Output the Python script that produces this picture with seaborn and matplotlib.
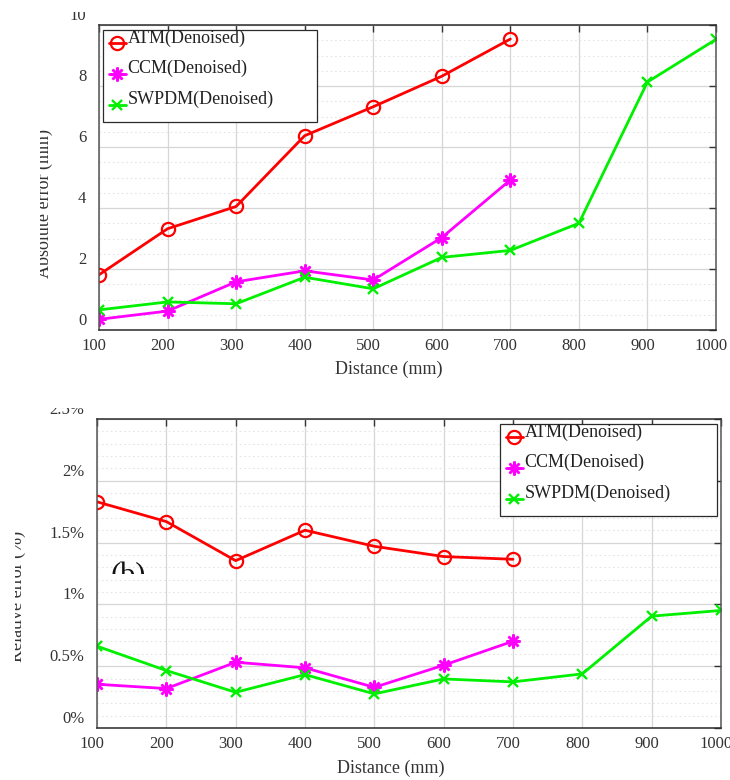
import numpy as np
import pandas as pd
import matplotlib
matplotlib.use("Agg")
import matplotlib.pyplot as plt
import seaborn as sns
from matplotlib.transforms import Bbox, ScaledTranslation, Affine2D
from matplotlib.ticker import FixedLocator, MultipleLocator

# ---------------- data ----------------
distance_short = [100, 200, 300, 400, 500, 600, 700]
distance_long = [100, 200, 300, 400, 500, 600, 700, 800, 900, 1000]

abs_atm = [1.81, 3.32, 4.05, 6.37, 7.32, 8.32, 9.54]
abs_ccm = [0.35, 0.62, 1.58, 1.94, 1.64, 3.03, 4.92]
abs_swpdm = [0.66, 0.92, 0.86, 1.73, 1.35, 2.38, 2.61, 3.50, 8.13, 9.53]

rel_atm = [1.83, 1.67, 1.354, 1.60, 1.47, 1.387, 1.365]
rel_ccm = [0.354, 0.319, 0.532, 0.487, 0.329, 0.508, 0.702]
rel_swpdm = [0.662, 0.465, 0.289, 0.432, 0.276, 0.397, 0.373, 0.438, 0.905, 0.951]

series_names = ["ATM(Denoised)", "CCM(Denoised)", "SWPDM(Denoised)"]
x_ticks = [100, 200, 300, 400, 500, 600, 700, 800, 900, 1000]
abs_ticks = [0, 2, 4, 6, 8, 10]
abs_tick_labels = ["0", "2", "4", "6", "8", "10"]
rel_ticks = [0, 0.5, 1, 1.5, 2, 2.5]
rel_tick_labels = ["0%", "0.5%", "1%", "1.5%", "2%", "2.5%"]
x_label = "Distance (mm)"
abs_label = "Absolute error (mm)"
rel_label = "Relative error (%)"
panel_tag = "(b)"

# ---------------- style ----------------
sns.set_theme(style="white")
plt.rcParams["font.family"] = ["Liberation Serif", "DejaVu Serif"]
plt.rcParams["text.color"] = "#333333"
plt.rcParams["axes.labelcolor"] = "#333333"
plt.rcParams["xtick.color"] = "#333333"
plt.rcParams["ytick.color"] = "#333333"

W, H = 730, 780
fig = plt.figure(figsize=(W / 100, H / 100), dpi=100)
fig.patch.set_facecolor("white")

# pixel (image coords, y down) -> display
pix = Affine2D().scale(1, -1).translate(0, H)


def ax_rect(l, r, t, b):
    return [l / W, 1 - b / H, (r - l) / W, (b - t) / H]


ax1 = fig.add_axes(ax_rect(99, 716, 25, 330))
ax2 = fig.add_axes(ax_rect(97, 721, 419, 728))

styles = [
    dict(color="#ff0000", marker="o", mfc="none", mec="#ff0000", ms=9.5, mew=1.6),
    dict(color="#ff00ff", marker=(8, 2, 0), mec="#ff00ff", ms=10, mew=1.8),
    dict(color="#00f000", marker="x", mec="#00f000", ms=7, mew=1.7),
]


def draw_panel(ax, xs_list, ys_list):
    for xs, ys, name, st in zip(xs_list, ys_list, series_names, styles):
        df = pd.DataFrame({"x": xs, "y": ys})
        sns.lineplot(data=df, x="x", y="y", ax=ax, label=name, lw=2.0,
                     estimator=None, sort=False, **st)


draw_panel(ax1, [distance_short, distance_short, distance_long], [abs_atm, abs_ccm, abs_swpdm])
draw_panel(ax2, [distance_short, distance_short, distance_long], [rel_atm, rel_ccm, rel_swpdm])


def format_axes(ax, yticks, ylabels, ymax, minor_step, leg_box):
    ax.set_xlim(100, 1000)
    ax.set_ylim(0, ymax)
    ax.xaxis.set_major_locator(FixedLocator(x_ticks))
    ax.set_xticklabels([str(v) for v in x_ticks])
    ax.yaxis.set_major_locator(FixedLocator(yticks))
    ax.set_yticklabels(ylabels)
    ax.yaxis.set_minor_locator(MultipleLocator(minor_step))
    ax.grid(True, which="major", color="#d6d6d6", lw=0.9, ls="-")
    ax.grid(True, which="minor", axis="y", color="#e4e4e4", lw=0.8, ls=(0, (1.5, 2.5)))
    ax.set_axisbelow(True)
    ax.tick_params(which="major", direction="in", length=5, width=1.0,
                   top=True, right=True, labelsize=12, pad=6, colors="#333333")
    ax.tick_params(which="minor", length=0)
    ax.tick_params(axis="y", pad=9)
    for s in ax.spines.values():
        s.set_color("#2a2a2a")
        s.set_linewidth(1.1)
    ax.spines["left"].set_color("#555555")
    ax.spines["right"].set_color("#555555")
    ax.set_xlabel(x_label, fontsize=13)
    ax.set_ylabel("")
    leg = ax.legend(loc="upper left", bbox_to_anchor=leg_box, mode="expand",
                    borderaxespad=0, fontsize=13, frameon=True, fancybox=False,
                    framealpha=1, edgecolor="#2a2a2a", handlelength=0.9,
                    handletextpad=0.12, labelspacing=0.75, borderpad=0.35)
    leg.get_frame().set_linewidth(0.9)
    for t in leg.get_texts():
        t.set_y(7)
        t.set_color("#222222")
    return leg


format_axes(ax1, abs_ticks, abs_tick_labels, 10, 0.5,
            (0.0065, 0.5, 0.347, 0.4836))
format_axes(ax2, rel_ticks, rel_tick_labels, 2.5, 0.1,
            (0.6458, 0.5, 0.3478, 0.4838))

ax1.xaxis.set_label_coords(0.47, -0.102)
ax2.xaxis.set_label_coords(0.47, -0.104)

# y tick labels sit slightly above their ticks; clip the topmost ones
shift_y = ScaledTranslation(0, 0.11, fig.dpi_scale_trans)
shift_x = ScaledTranslation(-0.05, 0, fig.dpi_scale_trans)
for ax, cliptop in ((ax1, 12), (ax2, 408)):
    for lab in ax.get_yticklabels():
        lab.set_transform(lab.get_transform() + shift_y)
        lab.set_clip_box(Bbox([[0, 0], [W, H - cliptop]]))
        lab.set_clip_on(True)
    for lab in ax.get_xticklabels():
        lab.set_transform(lab.get_transform() + shift_x)

# y labels (partly clipped on the left as in the reference)
t1 = fig.text(53, 204, abs_label, transform=pix, rotation=90, ha="right",
              va="center", fontsize=13, color="#333333")
t1.set_clip_box(Bbox([[40, 0], [W, H]]))
t1.set_clip_on(True)
t2 = fig.text(26, 596, rel_label, transform=pix, rotation=90, ha="right",
              va="center", fontsize=13, color="#333333")
t2.set_clip_box(Bbox([[15, 0], [W, H]]))
t2.set_clip_on(True)

# partially hidden panel tag
t3 = fig.text(111, 562, panel_tag, transform=pix, ha="left", va="top",
              fontsize=22, color="#111111")
t3.set_clip_box(Bbox([[0, H - 574], [W, H]]))
t3.set_clip_on(True)

fig.savefig("out.png", dpi=100, facecolor="white")
